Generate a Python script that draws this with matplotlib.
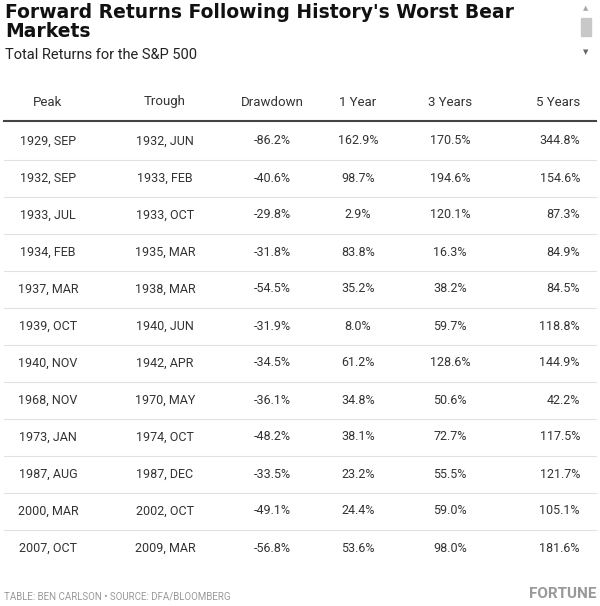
import matplotlib
matplotlib.use("Agg")
import matplotlib.pyplot as plt

headers = ["Peak", "Trough", "Drawdown", "1 Year", "3 Years", "5 Years"]
peaks = ["1929, SEP", "1932, SEP", "1933, JUL", "1934, FEB", "1937, MAR", "1939, OCT",
         "1940, NOV", "1968, NOV", "1973, JAN", "1987, AUG", "2000, MAR", "2007, OCT"]
troughs = ["1932, JUN", "1933, FEB", "1933, OCT", "1935, MAR", "1938, MAR", "1940, JUN",
           "1942, APR", "1970, MAY", "1974, OCT", "1987, DEC", "2002, OCT", "2009, MAR"]
drawdown = [-86.2, -40.6, -29.8, -31.8, -54.5, -31.9, -34.5, -36.1, -48.2, -33.5, -49.1, -56.8]
yr1 = [162.9, 98.7, 2.9, 83.8, 35.2, 8.0, 61.2, 34.8, 38.1, 23.2, 24.4, 53.6]
yr3 = [170.5, 194.6, 120.1, 16.3, 38.2, 59.7, 128.6, 50.6, 72.7, 55.5, 59.0, 98.0]
yr5 = [344.8, 154.6, 87.3, 84.9, 84.5, 118.8, 144.9, 42.2, 117.5, 121.7, 105.1, 181.6]

fig = plt.figure(figsize=(6, 6.06), dpi=100)
ax = fig.add_axes([0, 0, 1, 1])
ax.set_xlim(0, 600)
ax.set_ylim(606, 0)
ax.axis("off")

font = "Roboto"
ax.text(5, 3, "Forward Returns Following History's Worst Bear\nMarkets", fontsize=13.5,
        fontweight="bold", family="DejaVu Sans", va="top", ha="left", linespacing=1.0,
        color="#111")
ax.text(5, 48, "Total Returns for the S&P 500", fontsize=10.5, family=font, va="top", color="#222")

# scrollbar
ax.add_patch(plt.Rectangle((581, 18), 10, 18, color="#c8c8c8"))
ax.text(586, 8, "\u25b2", fontsize=5, color="#aaa", ha="center", va="center")
ax.text(586, 52, "\u25bc", fontsize=5, color="#666", ha="center", va="center")

xs = [48, 165, 272, 358, 450, 580]
has = ["center", "center", "center", "center", "center", "right"]
for x, h, ha in zip(xs, headers, has):
    ax.text(x, 102, h, fontsize=9.5, family=font, ha=ha, va="center", color="#333")
ax.plot([4, 596], [121, 121], color="#444", lw=1.5)

row_h = 37
for i in range(len(peaks)):
    y = 141 + i * row_h
    vals = [peaks[i], troughs[i], f"{drawdown[i]:.1f}%", f"{yr1[i]:.1f}%",
            f"{yr3[i]:.1f}%", f"{yr5[i]:.1f}%"]
    for x, v, ha in zip(xs, vals, has):
        ax.text(x, y, v, fontsize=9, family=font, ha=ha, va="center", color="#333")
    if i < len(peaks) - 1:
        ax.plot([4, 596], [y + row_h / 2, y + row_h / 2], color="#e2e2e2", lw=0.8)

ax.text(4, 596, "TABLE: BEN CARLSON \u2022 SOURCE: DFA/BLOOMBERG", fontsize=7, family=font,
        color="#999", va="center")
ax.text(596, 594, "FORTUNE", fontsize=11, fontweight="bold", family=font, color="#999",
        ha="right", va="center")

fig.savefig("out.png", dpi=100)
